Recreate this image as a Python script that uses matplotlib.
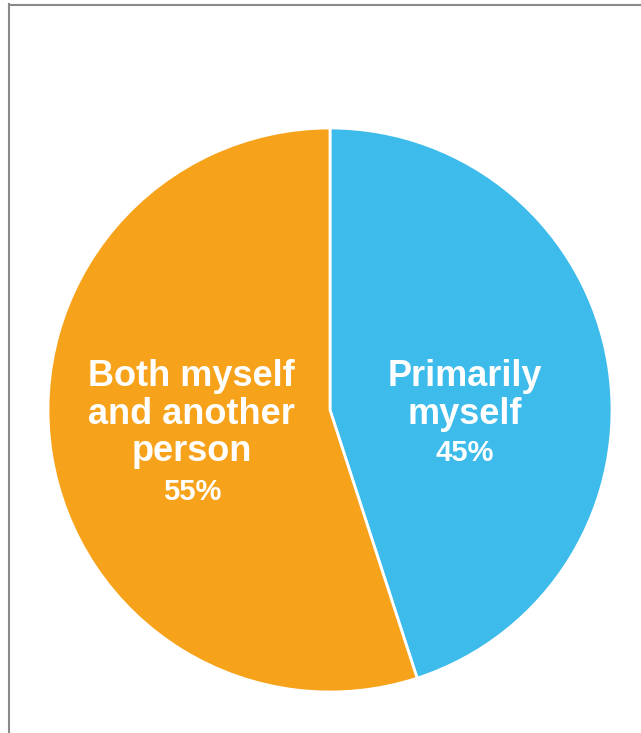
import matplotlib.pyplot as plt
import numpy as np
from matplotlib.lines import Line2D

labels = ['Primarily\nmyself', 'Both myself\nand another\nperson']
shares = [45, 55]
colors = ['#3DBBEB', '#F7A21B']

W, H = 641, 733
fig = plt.figure(figsize=(W / 100, H / 100), dpi=100)
fig.patch.set_facecolor('white')

# pie area in pixel coordinates of the picture
cx, cy, r = 330, 410, 282
ax = fig.add_axes([(cx - r) / W, (H - cy - r) / H, 2 * r / W, 2 * r / H])

wedges, _ = ax.pie(shares, colors=colors, startangle=90, counterclock=False,
                   radius=1, wedgeprops=dict(edgecolor='white', linewidth=2))
ax.set_xlim(-1, 1)
ax.set_ylim(-1, 1)
ax.axis('off')

font = ['Liberation Sans', 'DejaVu Sans']
top = (cy - 359) / r          # both label blocks start at the same height
for w, lab, val in zip(wedges, labels, shares):
    mid = np.deg2rad((w.theta1 + w.theta2) / 2)
    x = 0.49 * np.cos(mid) - 0.006
    n = lab.count('\n') + 1
    ax.text(x, top, lab, ha='center', va='top', color='white', fontsize=26,
            fontweight='bold', family=font, linespacing=1.1)
    ax.text(x, top - (2 + 39 * n) / r, f'{val}%', ha='center', va='top',
            color='white', fontsize=21, fontweight='bold', family=font)

# thin frame on the left and top edges
fig.add_artist(Line2D([8.5 / W, 8.5 / W], [0, 1 - 4 / H], color='#8a8a8a', lw=1.5))
fig.add_artist(Line2D([8.5 / W, 1], [1 - 4.5 / H, 1 - 4.5 / H], color='#8a8a8a', lw=1.5))

fig.savefig('out.png', dpi=100, facecolor='white')
